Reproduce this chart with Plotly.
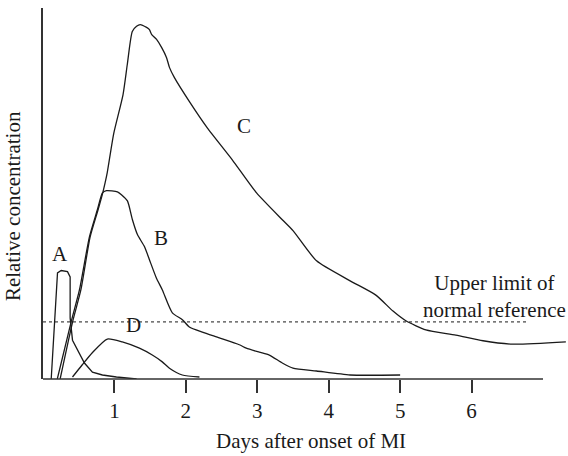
import plotly.graph_objects as go

# ---- data (days after onset, relative concentration; 1.0 = upper limit of normal) ----
A_x = [0.115, 0.145, 0.175, 0.203, 0.255, 0.343, 0.380, 0.385, 0.380, 0.413, 0.510, 0.580, 0.692, 0.832, 1.028, 1.31]
A_y = [0.0, 0.60, 1.16, 1.86, 1.90, 1.88, 1.79, 1.26, 1.07, 0.68, 0.46, 0.28, 0.12, 0.07, 0.035, 0.0]

B_x = [0.20, 0.40, 0.51, 0.65, 0.76, 0.832, 0.888, 1.042, 1.098, 1.182, 1.252, 1.322, 1.42, 1.49, 1.587,
       1.671, 1.811, 1.951, 2.049, 2.231, 2.469, 2.748, 2.846, 3.028, 3.168, 3.35, 3.50, 3.83, 4.30, 5.0]
B_y = [0.0, 1.03, 1.56, 2.49, 2.96, 3.26, 3.30, 3.28, 3.23, 3.12, 2.79, 2.53, 2.32, 2.09, 1.77,
       1.56, 1.16, 1.04, 0.91, 0.82, 0.72, 0.60, 0.54, 0.47, 0.42, 0.28, 0.19, 0.14, 0.07, 0.07]

C_x = [0.24, 0.42, 0.53, 0.66, 0.77, 0.83, 0.87, 0.90, 0.99, 1.12, 1.18, 1.25, 1.31, 1.36, 1.45, 1.49,
       1.52, 1.59, 1.66, 1.73, 1.77, 1.84, 2.05, 2.30, 2.65, 2.99, 3.35, 3.50, 3.83, 4.30, 4.66, 4.90,
       5.08, 5.36, 5.78, 6.16, 6.58, 7.32]
C_y = [0.0, 1.03, 1.56, 2.49, 2.96, 3.23, 3.44, 3.62, 4.30, 4.98, 5.51, 6.09, 6.18, 6.21, 6.16, 6.12,
       6.04, 5.95, 5.81, 5.63, 5.46, 5.28, 4.86, 4.40, 3.84, 3.26, 2.79, 2.60, 2.07, 1.72, 1.47, 1.19,
       1.02, 0.86, 0.77, 0.67, 0.61, 0.65]

D_x = [0.413, 0.55, 0.69, 0.90, 1.11, 1.35, 1.53, 1.67, 1.77, 1.95, 2.19]
D_y = [0.035, 0.25, 0.46, 0.70, 0.65, 0.54, 0.42, 0.30, 0.19, 0.07, 0.035]

REF_X = [0.0, 6.80]
REF_Y = [1.0, 1.0]

TICK_VALS = [1, 2, 3, 4, 5, 6]
TICK_TEXT = ["1", "2", "3", "4", "5", "6"]

CURVE_LABELS = ["A", "B", "C", "D"]
LABEL_X = [0.24, 1.65, 2.82, 1.26]
LABEL_Y = [2.19, 2.47, 4.43, 0.94]

FONT = "Liberation Serif"
INK = "#1a1a1a"
FS = 21

fig = go.Figure()
for xs, ys, shape in [(A_x, A_y, "linear"), (B_x, B_y, "spline"), (C_x, C_y, "spline"), (D_x, D_y, "spline")]:
    line = dict(color=INK, width=1.3, shape=shape)
    if shape == "spline":
        line["smoothing"] = 0.6
    fig.add_trace(go.Scatter(x=xs, y=ys, mode="lines", line=line, showlegend=False, hoverinfo="skip"))
fig.add_trace(go.Scatter(x=REF_X, y=REF_Y, mode="lines",
                         line=dict(color=INK, width=1, dash="dot"), showlegend=False, hoverinfo="skip"))

for t, lx, ly in zip(CURVE_LABELS, LABEL_X, LABEL_Y):
    fig.add_annotation(x=lx, y=ly, text=t, showarrow=False, xanchor="center", yanchor="middle",
                       font=dict(family=FONT, size=FS, color=INK))

fig.add_annotation(x=6.32, y=1.45, text="Upper limit of<br>normal reference", showarrow=False,
                   xanchor="center", yanchor="middle", font=dict(family=FONT, size=FS, color=INK))

# axis titles
fig.add_annotation(xref="paper", yref="paper", x=0.51, y=0, yshift=-62, text="Days after onset of MI",
                   showarrow=False, xanchor="center", yanchor="middle",
                   font=dict(family=FONT, size=FS, color=INK))
fig.add_annotation(xref="paper", yref="paper", x=0, xshift=-30, y=0.466, text="Relative concentration",
                   textangle=-90, showarrow=False, xanchor="center", yanchor="middle",
                   font=dict(family=FONT, size=FS, color=INK))

# bottom axis line (stops at day 7)
fig.add_shape(type="line", xref="x", yref="paper", x0=0, x1=7.0, y0=0, y1=0,
              line=dict(color="#333333", width=1.5))

fig.update_layout(
    width=568, height=456,
    margin=dict(l=43, r=0, t=8, b=77),
    paper_bgcolor="white", plot_bgcolor="white",
    font=dict(family=FONT, size=FS, color=INK),
    xaxis=dict(range=[0, 7.35], showgrid=False, zeroline=False, showline=False,
               tickmode="array", tickvals=TICK_VALS, ticktext=TICK_TEXT,
               ticks="outside", ticklen=13, tickwidth=1.5, tickcolor="#333333",
               tickfont=dict(family=FONT, size=FS, color=INK)),
    yaxis=dict(range=[0, 6.5], showgrid=False, zeroline=False, showline=True,
               linecolor="#333333", linewidth=1.5, showticklabels=False, ticks=""),
)

fig.write_html("out.html", config={"displayModeBar": False},
               post_script="document.body.style.margin='0';")
